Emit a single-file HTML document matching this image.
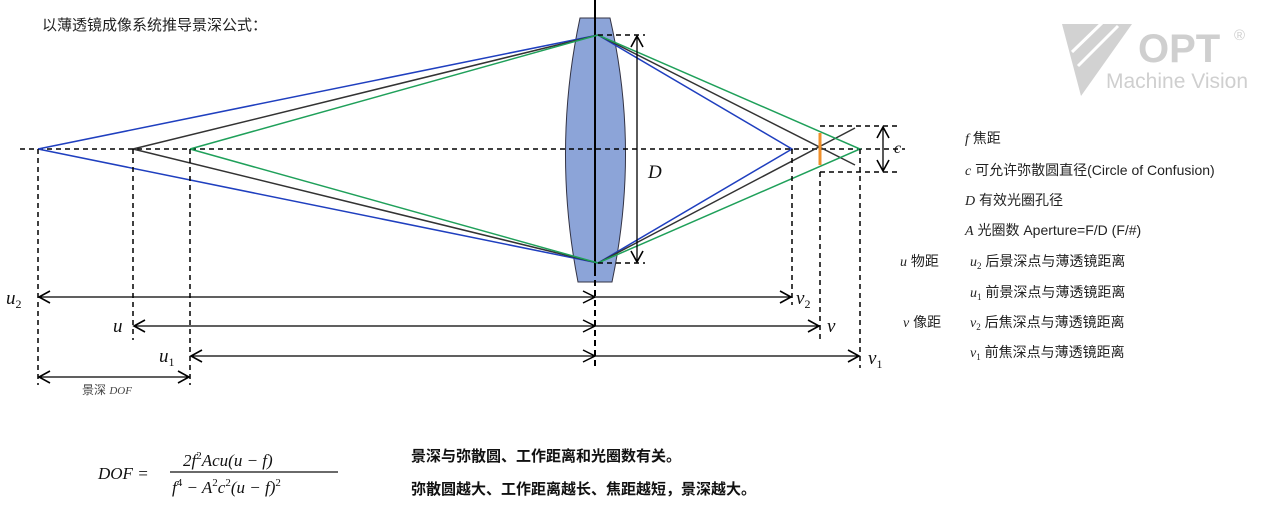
<!DOCTYPE html>
<html><head><meta charset="utf-8"><style>
html,body{margin:0;padding:0;background:#fff;width:1287px;height:519px;overflow:hidden}
svg{display:block}
.cn{font-family:"Liberation Sans","Noto Sans CJK SC",sans-serif}
.m{font-family:"Liberation Serif","DejaVu Serif",serif;font-style:italic}
</style></head><body>
<svg width="1287" height="519" viewBox="0 0 1287 519" xmlns="http://www.w3.org/2000/svg">
<defs>
<marker id="ar" markerWidth="14" markerHeight="14" refX="12" refY="7" orient="auto" markerUnits="userSpaceOnUse">
<path d="M1,1 L12,7 L1,13" fill="none" stroke="#000" stroke-width="1.6"/></marker>
</defs>
<text x="42" y="30" class="cn" font-size="15" fill="#222">以薄透镜成像系统推导景深公式：</text>
<!-- logo -->
<polygon points="1062,24 1132,24 1081,96" fill="#d2d2d2"/>
<line x1="1072" y1="52" x2="1103" y2="22" stroke="#fff" stroke-width="3"/>
<line x1="1078" y1="66" x2="1118" y2="26" stroke="#fff" stroke-width="3"/>
<text x="1138" y="62" font-family="Liberation Sans,sans-serif" font-weight="bold" font-size="40" fill="#cfcfcf">OPT</text>
<text x="1234" y="40" font-family="Liberation Sans,sans-serif" font-size="15" fill="#cfcfcf">®</text>
<text x="1106" y="88" font-family="Liberation Sans,sans-serif" font-size="21" fill="#cfcfcf">Machine Vision</text>
<!-- lens -->
<path d="M580,18 L610,18 Q640,149 612,282 L578,282 Q552,149 580,18Z" fill="#8ca4d8" stroke="#334" stroke-width="1"/>
<line x1="595" y1="0" x2="595" y2="270" stroke="#000" stroke-width="2"/>
<line x1="595" y1="270" x2="595" y2="366" stroke="#000" stroke-width="2" stroke-dasharray="6,4"/>
<!-- axis -->
<line x1="20" y1="149" x2="905" y2="149" stroke="#000" stroke-width="1.5" stroke-dasharray="5,4"/>
<!-- rays -->
<g fill="none" stroke-width="1.5">
<polyline points="38,149 598,35 792,149 598,263 38,149" stroke="#1f3fbf"/>
<polyline points="133,149 598,35 855,165" stroke="#333"/>
<polyline points="133,149 598,263 855,128" stroke="#333"/>
<polyline points="190,149 598,35 860,149 598,263 190,149" stroke="#1fa05a"/>
</g>
<line x1="820" y1="133" x2="820" y2="165" stroke="#f0902a" stroke-width="3"/>
<g stroke="#000" stroke-width="1.5" stroke-dasharray="5,4">
<line x1="598" y1="35" x2="645" y2="35"/><line x1="598" y1="263" x2="645" y2="263"/>
<line x1="820" y1="126" x2="900" y2="126"/><line x1="820" y1="172" x2="900" y2="172"/>
<line x1="38" y1="149" x2="38" y2="385"/><line x1="133" y1="149" x2="133" y2="340"/><line x1="190" y1="149" x2="190" y2="385"/>
<line x1="792" y1="149" x2="792" y2="305"/><line x1="820" y1="172" x2="820" y2="340"/><line x1="860" y1="149" x2="860" y2="368"/>
</g>
<g stroke="#000" stroke-width="1.3" marker-end="url(#ar)">
<line x1="637" y1="149" x2="637" y2="36"/><line x1="637" y1="149" x2="637" y2="262"/>
<line x1="883" y1="149" x2="883" y2="127"/><line x1="883" y1="149" x2="883" y2="171"/>
<line x1="595" y1="297" x2="39" y2="297"/><line x1="595" y1="297" x2="791" y2="297"/>
<line x1="595" y1="326" x2="134" y2="326"/><line x1="595" y1="326" x2="819" y2="326"/>
<line x1="595" y1="356" x2="191" y2="356"/><line x1="595" y1="356" x2="859" y2="356"/>
<line x1="114" y1="377" x2="39" y2="377"/><line x1="114" y1="377" x2="189" y2="377"/>
</g>
<g stroke="#000" stroke-width="1.5" fill="none">
<path d="M583,291 L595,297 L583,303"/><path d="M583,320 L595,326 L583,332"/><path d="M583,350 L595,356 L583,362"/>
</g>
<g class="m" font-size="19" fill="#111">
<text x="648" y="178">D</text>
<text x="894" y="153" font-size="16">c</text>
<text x="6" y="304">u<tspan font-size="12" dy="4" font-style="normal">2</tspan></text>
<text x="796" y="304">v<tspan font-size="12" dy="4" font-style="normal">2</tspan></text>
<text x="113" y="332">u</text>
<text x="827" y="332">v</text>
<text x="159" y="362">u<tspan font-size="12" dy="4" font-style="normal">1</tspan></text>
<text x="868" y="364">v<tspan font-size="12" dy="4" font-style="normal">1</tspan></text>
</g>
<text x="82" y="394" class="cn" font-size="12" fill="#444">景深 <tspan class="m" font-size="11">DOF</tspan></text>
<!-- legend -->
<g class="cn" font-size="14" fill="#222">
<text x="965" y="143"><tspan class="m">f</tspan>  焦距</text>
<text x="965" y="175"><tspan class="m">c</tspan>  可允许弥散圆直径(Circle of Confusion)</text>
<text x="965" y="205"><tspan class="m">D</tspan> 有效光圈孔径</text>
<text x="965" y="235"><tspan class="m">A</tspan>  光圈数 Aperture=F/D (F/#)</text>
<text x="900" y="266"><tspan class="m">u</tspan> 物距</text>
<text x="970" y="266"><tspan class="m">u<tspan font-size="9" dy="3" font-style="normal">2</tspan></tspan><tspan dy="-3"> 后景深点与薄透镜距离</tspan></text>
<text x="970" y="297"><tspan class="m">u<tspan font-size="9" dy="3" font-style="normal">1</tspan></tspan><tspan dy="-3"> 前景深点与薄透镜距离</tspan></text>
<text x="903" y="327"><tspan class="m">v</tspan> 像距</text>
<text x="970" y="327"><tspan class="m">v<tspan font-size="9" dy="3" font-style="normal">2</tspan></tspan><tspan dy="-3"> 后焦深点与薄透镜距离</tspan></text>
<text x="970" y="357"><tspan class="m">v<tspan font-size="9" dy="3" font-style="normal">1</tspan></tspan><tspan dy="-3"> 前焦深点与薄透镜距离</tspan></text>
</g>
<!-- formula -->
<g class="m" font-size="17" fill="#111">
<text x="98" y="479">DOF =</text>
<text x="183" y="466">2f<tspan font-size="11" dy="-7" font-style="normal">2</tspan><tspan dy="7">Acu(u − f)</tspan></text>
<line x1="170" y1="472" x2="338" y2="472" stroke="#111" stroke-width="1.2"/>
<text x="172" y="493">f<tspan font-size="11" dy="-7" font-style="normal">4</tspan><tspan dy="7"> − A</tspan><tspan font-size="11" dy="-7" font-style="normal">2</tspan><tspan dy="7">c</tspan><tspan font-size="11" dy="-7" font-style="normal">2</tspan><tspan dy="7">(u − f)</tspan><tspan font-size="11" dy="-7" font-style="normal">2</tspan></text>
</g>
<g class="cn" font-size="15" font-weight="bold" fill="#111">
<text x="411" y="461">景深与弥散圆、工作距离和光圈数有关。</text>
<text x="411" y="494">弥散圆越大、工作距离越长、焦距越短，景深越大。</text>
</g>
</svg>
</body></html>
